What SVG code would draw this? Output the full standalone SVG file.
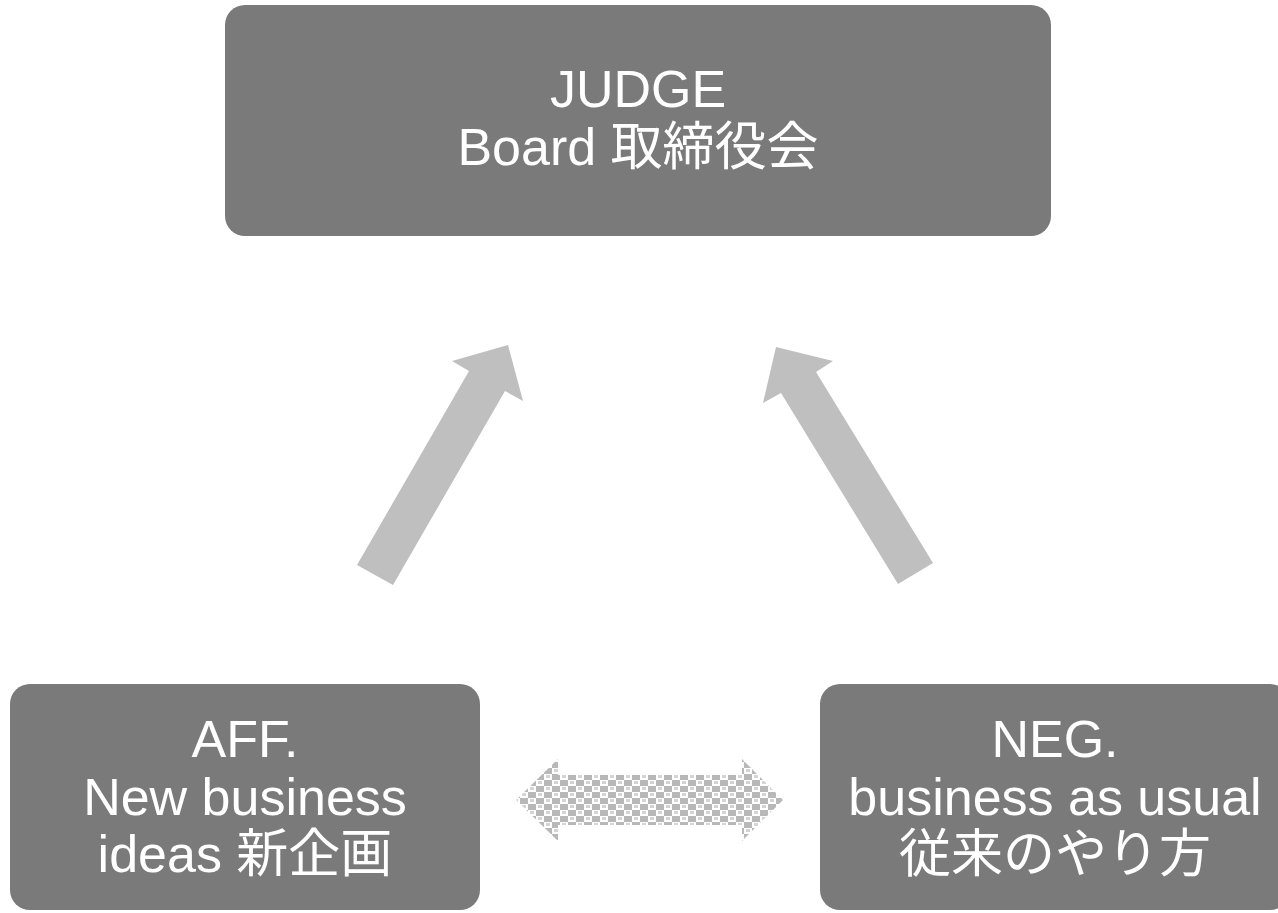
<svg xmlns="http://www.w3.org/2000/svg" width="1278" height="913" viewBox="0 0 1278 913">
<style>
.box{fill:#7a7a7a;}
.lbl{font-family:"Liberation Sans",Arial,"Noto Sans CJK JP",sans-serif;font-size:52px;fill:#ffffff;text-anchor:middle;}
.arr{fill:#bfbfbf;}
</style>
<defs>
<pattern id="chk" patternUnits="userSpaceOnUse" width="16" height="12">
<rect width="16" height="12" fill="#ffffff"/>
<rect x="0" y="0" width="8" height="6" fill="#b8b8b8"/>
<rect x="8" y="6" width="8" height="6" fill="#b8b8b8"/>
<rect x="10" y="1" width="4" height="3" fill="#d4d4d4"/>
<rect x="2" y="7" width="4" height="3" fill="#d4d4d4"/>
</pattern>
</defs>
<rect width="1278" height="913" fill="#ffffff"/>
<g id="connectors">
<polygon class="arr" points="357,565 469,371 452,361 508,345 523,401 505,391 393,585"/>
<polygon class="arr" points="933,563 816,372 833,361 776,347 763,403 781,393 898,584"/>
<polygon fill="url(#chk)" points="516,800 558,759 558,775 742,775 742,759 783,800 742,841 742,825 558,825 558,841"/>
</g>
<g id="judge">
<rect class="box" x="225" y="5" width="826" height="231" rx="20"/>
<text class="lbl" x="638" y="107">JUDGE</text>
<text class="lbl" x="638" y="165">Board 取締役会</text>
</g>
<g id="aff">
<rect class="box" x="10" y="684" width="470" height="226" rx="20"/>
<text class="lbl" x="245" y="757">AFF.</text>
<text class="lbl" x="245" y="815">New business</text>
<text class="lbl" x="245" y="872">ideas 新企画</text>
</g>
<g id="neg">
<rect class="box" x="820" y="684" width="470" height="226" rx="20"/>
<text class="lbl" x="1055" y="757">NEG.</text>
<text class="lbl" x="1055" y="815">business as usual</text>
<text class="lbl" x="1055" y="872">従来のやり方</text>
</g>
</svg>
